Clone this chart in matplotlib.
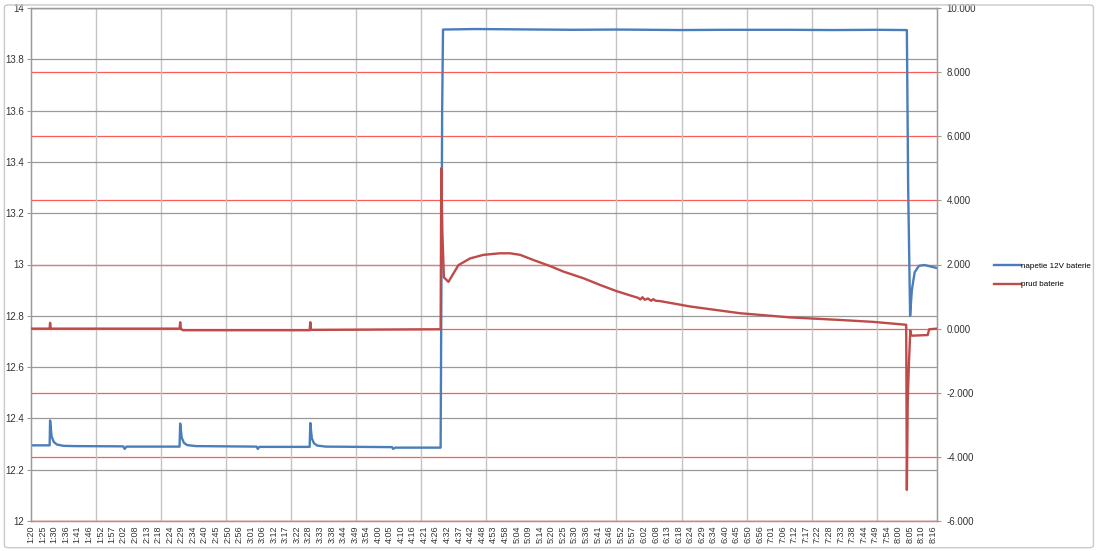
import numpy as np
import matplotlib
matplotlib.use("Agg")
import matplotlib.pyplot as plt
from matplotlib.ticker import FuncFormatter, MultipleLocator
from matplotlib.patches import FancyBboxPatch

# time in minutes after midnight
napetie_t = [80.0, 88.6, 88.8, 89.5, 90.5, 92.0, 95.0, 100.0,
             122.5, 123.2, 124.0, 148.5, 148.8, 149.5, 150.5, 152.0, 156.0,
             184.0, 184.6, 185.3, 208.5, 208.8, 209.5, 210.5, 212.0, 216.0,
             246.5, 247.0, 248.0, 268.9, 269.3, 269.6, 270.0,
             285.0, 300.0, 330.0, 350.0, 380.0, 400.0, 430.0, 450.0, 470.0,
             483.9, 484.5, 485.4, 486.2, 487.5, 489.5, 492.0, 495.0, 497.8]
napetie_v = [12.295, 12.295, 12.392, 12.330, 12.308, 12.298, 12.293, 12.292,
             12.291, 12.281, 12.290, 12.290, 12.380, 12.325, 12.305, 12.296, 12.292,
             12.290, 12.281, 12.289, 12.289, 12.382, 12.322, 12.303, 12.294, 12.290,
             12.288, 12.281, 12.286, 12.286, 13.000, 13.600, 13.916,
             13.918, 13.917, 13.915, 13.916, 13.914, 13.915, 13.915, 13.914, 13.915,
             13.914, 13.300, 12.800, 12.900, 12.970, 12.995, 12.998, 12.992, 12.986]

prud_t = [80.0, 88.6, 88.8, 89.1, 148.5, 148.8, 149.1, 150.0,
          208.5, 208.8, 209.1, 268.9, 269.2, 269.7, 270.4, 272.5,
          277.1, 282.5, 288.6, 296.3, 300.9, 305.6, 311.7, 319.4, 325.5,
          334.8, 342.5, 350.0, 358.0, 360.0, 361.0, 362.0, 363.0, 364.5,
          366.0, 367.0, 368.0, 370.0, 384.0, 407.0, 430.1, 453.2, 468.5,
          483.6, 483.9, 484.3, 484.9, 485.5, 485.9, 486.5, 493.5, 494.2, 497.8]
prud_a = [0.00, 0.00, 0.18, 0.00, 0.00, 0.20, 0.00, -0.05,
          -0.05, 0.20, -0.04, -0.02, 5.00, 3.00, 1.60, 1.46,
          1.98, 2.19, 2.30, 2.35, 2.35, 2.30, 2.14, 1.95, 1.78,
          1.57, 1.36, 1.17, 1.00, 0.96, 0.91, 0.98, 0.90, 0.94,
          0.87, 0.92, 0.87, 0.86, 0.69, 0.48, 0.35, 0.27, 0.21,
          0.12, -5.03, -2.25, -1.00, -0.06, -0.20, -0.22, -0.20, -0.02, 0.00]

cas_labels = ["1:20", "1:25", "1:30", "1:36", "1:41", "1:46", "1:52", "1:57", "2:02", "2:08",
              "2:13", "2:18", "2:24", "2:29", "2:34", "2:40", "2:45", "2:50", "2:56", "3:01",
              "3:06", "3:12", "3:17", "3:22", "3:28", "3:33", "3:38", "3:44", "3:49", "3:54",
              "4:00", "4:05", "4:10", "4:16", "4:21", "4:26", "4:32", "4:37", "4:42", "4:48",
              "4:53", "4:58", "5:04", "5:09", "5:14", "5:20", "5:25", "5:30", "5:36", "5:41",
              "5:46", "5:52", "5:57", "6:02", "6:08", "6:13", "6:18", "6:24", "6:29", "6:34",
              "6:40", "6:45", "6:50", "6:56", "7:01", "7:06", "7:12", "7:17", "7:22", "7:28",
              "7:33", "7:38", "7:44", "7:49", "7:54", "8:00", "8:05", "8:10", "8:16"]

plt.rcParams['font.family'] = ['Liberation Sans', 'DejaVu Sans']

blue = "#4a7ebb"
red = "#be4b48"
grid_c = "#9a9a9a"
redgrid = "#ff5a5a"

fig = plt.figure(figsize=(11, 5.51), dpi=100)
ax = fig.add_axes([31/1100, 30/551, 906/1100, 513/551])
ax2 = ax.twinx()

xmin, xmax = 80, 497.8
ax.set_xlim(xmin, xmax)
ax.set_ylim(12, 14)
ax2.set_ylim(-6, 10)

# gridlines
ax.yaxis.set_major_locator(MultipleLocator(0.2))
ax.grid(axis='y', which='major', color=grid_c, lw=0.9, zorder=0)
ax.set_xticks(np.arange(110, xmax, 30), minor=True)
ax.grid(axis='x', which='minor', color="#c4c4c4", lw=1.0, zorder=0)
for r in np.arange(-6, 10.1, 2):
    ax.axhline(12 + (r + 6) / 16 * 2, color=redgrid, lw=0.9, zorder=1)

ln1, = ax.plot(napetie_t, napetie_v, color=blue, lw=1.7, zorder=3,
               label="napetie 12V baterie")
ln2, = ax2.plot(prud_t, prud_a, color=red, lw=1.7, zorder=3, label="prud baterie")

ax.set_xticks([80 + i * 16 / 3 for i in range(len(cas_labels))])
ax.set_xticklabels(cas_labels, rotation=90, fontsize=6.5, color="#333333")
ax.tick_params(axis='x', which='both', length=0, pad=3)
ax.tick_params(axis='y', length=3, color=grid_c, labelsize=7, labelcolor="#333333", pad=2)
ax.yaxis.set_major_formatter(FuncFormatter(lambda v, p: f"{v:g}"))
ax.set_yticks(np.round(np.arange(12, 14.01, 0.2), 1))

ax2.set_yticks(np.arange(-6, 10.1, 2))
ax2.yaxis.set_major_formatter(FuncFormatter(lambda v, p: f"{v:.3f}"))
ax2.tick_params(axis='y', length=3, color=grid_c, labelsize=7, labelcolor="#333333", pad=4)
ax2.patch.set_visible(False)

for a in (ax, ax2):
    for s in a.spines.values():
        s.set_color(grid_c)
        s.set_linewidth(0.9)
ax.spines['bottom'].set_color(redgrid)

fig.legend(handles=[ln1, ln2], loc='center left', bbox_to_anchor=(994/1100, 0.5),
           frameon=False, fontsize=5.8, handlelength=3.3, handletextpad=0.1,
           labelspacing=1.3, borderaxespad=0, borderpad=0)

fig.patches.append(FancyBboxPatch((0.004, 0.006), 0.99, 0.985, boxstyle="round,pad=0,rounding_size=0.004",
                                  transform=fig.transFigure, fill=False, ec="#c9c9c9", lw=1.0))

fig.savefig("out.png", dpi=100)
